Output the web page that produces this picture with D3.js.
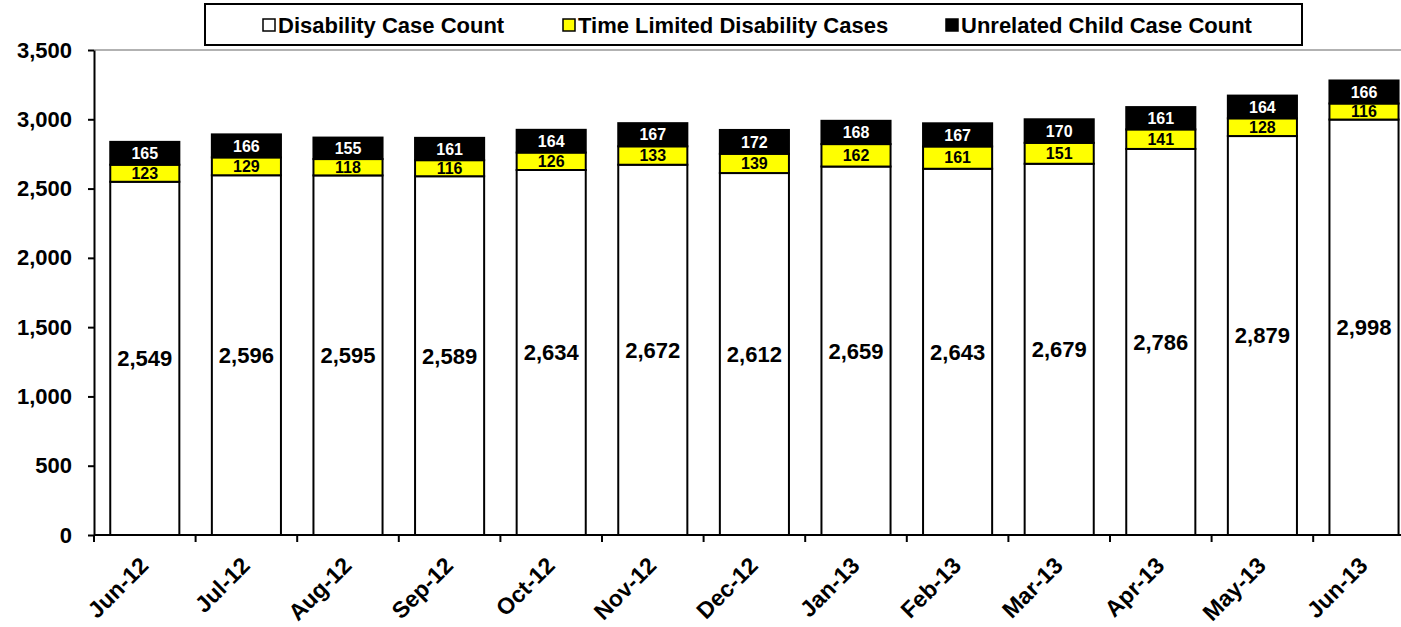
<!DOCTYPE html>
<meta charset="utf-8">
<script src="https://d3js.org/d3.v7.min.js"></script>
<style>
  body { margin: 0; background: #fff; }
  text { font-family: "Liberation Sans", Arial, sans-serif; font-weight: bold; }
</style>
<div id="chart"></div>
<script>
// data
const months = ["Jun-12","Jul-12","Aug-12","Sep-12","Oct-12","Nov-12","Dec-12","Jan-13","Feb-13","Mar-13","Apr-13","May-13","Jun-13"];
const disability = [2549,2596,2595,2589,2634,2672,2612,2659,2643,2679,2786,2879,2998];
const timeLimited = [123,129,118,116,126,133,139,162,161,151,141,128,116];
const unrelatedChild = [165,166,155,161,164,167,172,168,167,170,161,164,166];
const yTicks = [0,500,1000,1500,2000,2500,3000,3500];

const W = 1401, H = 627;
const margin = {left: 94, top: 50, bottom: 535};
const band = 101.6;
const plotRight = margin.left + band * months.length;

const svg = d3.select("#chart").append("svg")
  .attr("width", W).attr("height", H);

const x = d3.scaleBand().domain(months).range([margin.left, plotRight]).paddingInner(0.32).paddingOuter(0.16);
const y = d3.scaleLinear().domain([0, 3500]).range([margin.bottom, margin.top]);

// top border of plot area
svg.append("line")
  .attr("x1", margin.left).attr("x2", W).attr("y1", y(3500)).attr("y2", y(3500))
  .attr("stroke", "#999").attr("stroke-width", 1.5);

const series = [
  {name: "Disability Case Count", values: disability, fill: "#fff", text: "#000"},
  {name: "Time Limited Disability Cases", values: timeLimited, fill: "#ffff00", text: "#000"},
  {name: "Unrelated Child Case Count", values: unrelatedChild, fill: "#000", text: "#fff"}
];

const rows = months.map((m, i) => {
  let acc = 0;
  return series.map((s, k) => {
    const v = s.values[i];
    const seg = {m, k, v, y0: acc, y1: acc + v, s};
    acc += v;
    return seg;
  });
}).flat();

svg.append("g").selectAll("rect").data(rows).join("rect")
  .attr("x", d => x(d.m))
  .attr("width", x.bandwidth())
  .attr("y", d => y(d.y1))
  .attr("height", d => y(d.y0) - y(d.y1))
  .attr("fill", d => d.s.fill)
  .attr("stroke", "#000").attr("stroke-width", 2);

svg.append("g").selectAll("text").data(rows).join("text")
  .attr("x", d => x(d.m) + x.bandwidth() / 2)
  .attr("y", d => (y(d.y0) + y(d.y1)) / 2)
  .attr("dy", "0.36em")
  .attr("text-anchor", "middle")
  .attr("fill", d => d.s.text)
  .style("font-size", d => d.k === 0 ? "22px" : "16px")
  .text(d => d3.format(",")(d.v));

// y axis
const yAxis = svg.append("g").attr("transform", `translate(${margin.left},0)`)
  .call(d3.axisLeft(y).tickValues(yTicks).tickFormat(d3.format(",")).tickSize(6).tickSizeOuter(0));
yAxis.select(".domain").attr("stroke", "#000").attr("stroke-width", 2);
yAxis.selectAll(".tick line").attr("stroke", "#000").attr("stroke-width", 2);
yAxis.selectAll(".tick text").style("font-size", "22px").attr("x", -22).attr("fill", "#000");

// x axis with ticks between categories
svg.append("line").attr("x1", margin.left).attr("x2", W).attr("y1", margin.bottom).attr("y2", margin.bottom)
  .attr("stroke", "#000").attr("stroke-width", 2);
svg.append("g").selectAll("line").data(d3.range(months.length + 1)).join("line")
  .attr("x1", i => margin.left + i * band).attr("x2", i => margin.left + i * band)
  .attr("y1", margin.bottom).attr("y2", margin.bottom + 7)
  .attr("stroke", "#000").attr("stroke-width", 2);
svg.append("g").selectAll("text").data(months).join("text")
  .attr("transform", d => `translate(${x(d) + x.bandwidth() / 2 + 5},${margin.bottom + 32}) rotate(-45)`)
  .attr("text-anchor", "end")
  .style("font-size", "23px")
  .text(d => d);

// legend
const lg = svg.append("g");
lg.append("rect").attr("x", 205).attr("y", 4).attr("width", 1097).attr("height", 41)
  .attr("fill", "#fff").attr("stroke", "#000").attr("stroke-width", 2);
const legendX = [263, 563, 946];
series.forEach((s, i) => {
  lg.append("rect").attr("x", legendX[i]).attr("y", 19).attr("width", 12).attr("height", 12)
    .attr("fill", s.fill).attr("stroke", "#000").attr("stroke-width", 1.5);
  lg.append("text").attr("x", legendX[i] + 15).attr("y", 33)
    .style("font-size", "22px").text(s.name);
});
</script>
